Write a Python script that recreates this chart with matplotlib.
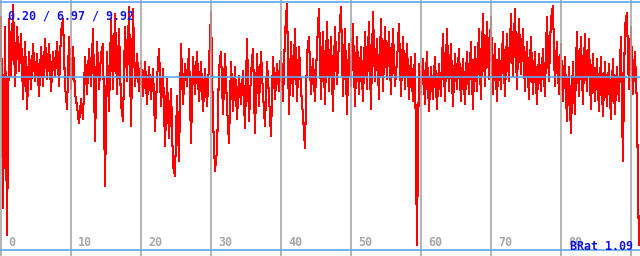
import matplotlib
matplotlib.use("Agg")
import matplotlib.pyplot as plt
import numpy as np

# one sample every 2/7 time units (2 px in the reference)
step = 2.0 / 7.0
values = [
    9.4, 1.7, 9.0, 0.6, 9.3, 7.0,
    9.9, 6.6, 9.0, 7.2, 8.7,
    6.1, 8.4, 5.7, 8.0, 6.5, 8.3, 6.8, 7.9, 6.2, 8.2,
    6.6, 8.5, 6.9, 8.3, 6.4, 8.0, 7.0, 8.4, 6.6, 8.8,
    9.3, 6.6, 5.7, 8.6, 6.5, 8.2, 6.3, 5.8, 5.1, 6.1,
    5.3, 7.8, 6.3, 8.1, 6.6, 8.9, 4.4, 8.4, 6.5, 7.9,
    8.3, 2.6, 8.0, 5.6, 9.3, 6.5, 9.5, 6.3, 8.9, 5.9,
    5.2, 9.0, 6.8, 9.8, 5.0, 9.7, 6.6, 7.9, 6.4, 7.6,
    6.2, 7.6, 5.9, 7.4, 6.1, 7.3, 4.8, 6.9, 8.1, 5.8,
    7.3, 4.2, 6.9, 4.5, 6.5, 3.4, 3.0, 6.2, 3.6, 8.3,
    5.9, 7.5, 6.6, 8.1, 4.3, 7.8, 6.3, 8.0, 6.0, 7.6,
    5.6, 7.3, 5.8, 7.5, 9.6, 5.3, 3.2, 4.0, 7.3, 8.0,
    5.5, 7.9, 5.8, 4.3, 7.6, 5.6, 7.4, 5.3, 7.0, 5.9,
    7.2, 4.9, 8.5, 5.2, 7.1, 8.1, 4.7, 7.9, 5.8, 8.0,
    6.3, 5.0, 7.6, 6.2, 4.6, 7.8, 6.1, 7.5, 6.4, 8.0,
    6.0, 8.7, 9.92, 5.5, 8.4, 6.2, 8.9, 6.0, 8.2, 6.5,
    5.4, 4.1, 7.9, 8.6, 6.3, 7.7, 6.0, 8.2, 9.7, 6.1,
    8.8, 5.9, 9.2, 6.4, 8.6, 5.6, 9.0, 6.7, 8.4, 9.8,
    6.2, 8.9, 5.5, 8.3, 6.6, 9.1, 5.8, 8.6, 6.3, 8.2,
    6.0, 8.8, 6.5, 9.2, 5.7, 9.6, 6.8, 8.5, 6.1, 9.3,
    6.4, 9.0, 6.9, 8.8, 6.3, 8.9, 6.6, 7.6, 9.1, 6.2,
    8.6, 6.5, 8.3, 6.1, 7.8, 6.0, 7.9, 0.2, 7.5, 6.3,
    7.7, 5.9, 8.0, 5.6, 7.4, 6.1, 7.8, 5.7, 7.5, 6.2,
    8.7, 6.0, 8.9, 6.4, 8.3, 5.8, 7.9, 6.5, 8.1, 6.0,
    7.7, 5.9, 8.0, 6.3, 8.4, 5.7, 8.2, 6.4, 8.9, 6.1,
    9.5, 6.6, 9.2, 6.9, 9.4, 6.3, 8.3, 6.0, 8.1, 6.5,
    8.8, 6.2, 8.7, 6.8, 9.5, 7.0, 9.7, 6.5, 9.3, 7.1,
    8.9, 6.4, 8.4, 6.1, 8.6, 6.3, 8.0, 5.9, 7.9, 6.4,
    8.1, 6.2, 9.4, 6.8, 9.3, 9.85, 6.6, 8.4, 6.3, 8.3,
    6.0, 7.8, 5.2, 7.4, 4.7, 7.6, 5.5, 8.8, 6.2, 8.6,
    5.9, 8.7, 6.4, 8.5, 5.7, 7.9, 6.0, 7.7, 5.6, 7.8,
    5.4, 7.6, 5.8, 7.5, 5.3, 7.7, 5.5, 7.4, 6.0, 8.6,
    3.6, 9.0, 9.55, 6.5, 9.0, 6.3, 8.0, 5.9, 0.2,
]
stats_text = "0.20 / 6.97 / 9.92"
avg = 6.97
ratio_text = "BRat 1.09"
grid_ticks = list(range(0, 100, 10))

t = np.arange(len(values)) * step

fig = plt.figure(figsize=(6.4, 2.56), dpi=100)
ax = fig.add_axes([0, 0, 1, 1])
ax.set_xlim(-0.15, 91.3)
ax.set_ylim(-0.24, 10.08)
ax.axis('off')

ax.plot(t, values, color='#ff0000', lw=0.75, antialiased=False, zorder=2)

blue = '#5fa8f5'
grey = '#a8a8a8'
for g in grid_ticks:
    ax.axvline(g, color=grey, lw=1.2, zorder=3)
for yv in (0, avg, 10):
    ax.axhline(yv, color=blue, lw=1.2, zorder=4)

mono = dict(family='DejaVu Sans Mono', weight='bold', size=8.4)
for g in grid_ticks[:-1]:
    ax.text(g + 1.0, 0.17, str(g), color=grey, va='baseline', ha='left',
            zorder=5, **mono)

fig.text(8 / 640, 1 - 19.5 / 256, stats_text, color='#1414e6',
         va='baseline', ha='left', zorder=6, **mono)
fig.text(633 / 640, 6.5 / 256, ratio_text, color='#1414e6',
         va='baseline', ha='right', zorder=6, **mono)

fig.savefig('out.png', dpi=100, facecolor='white')
